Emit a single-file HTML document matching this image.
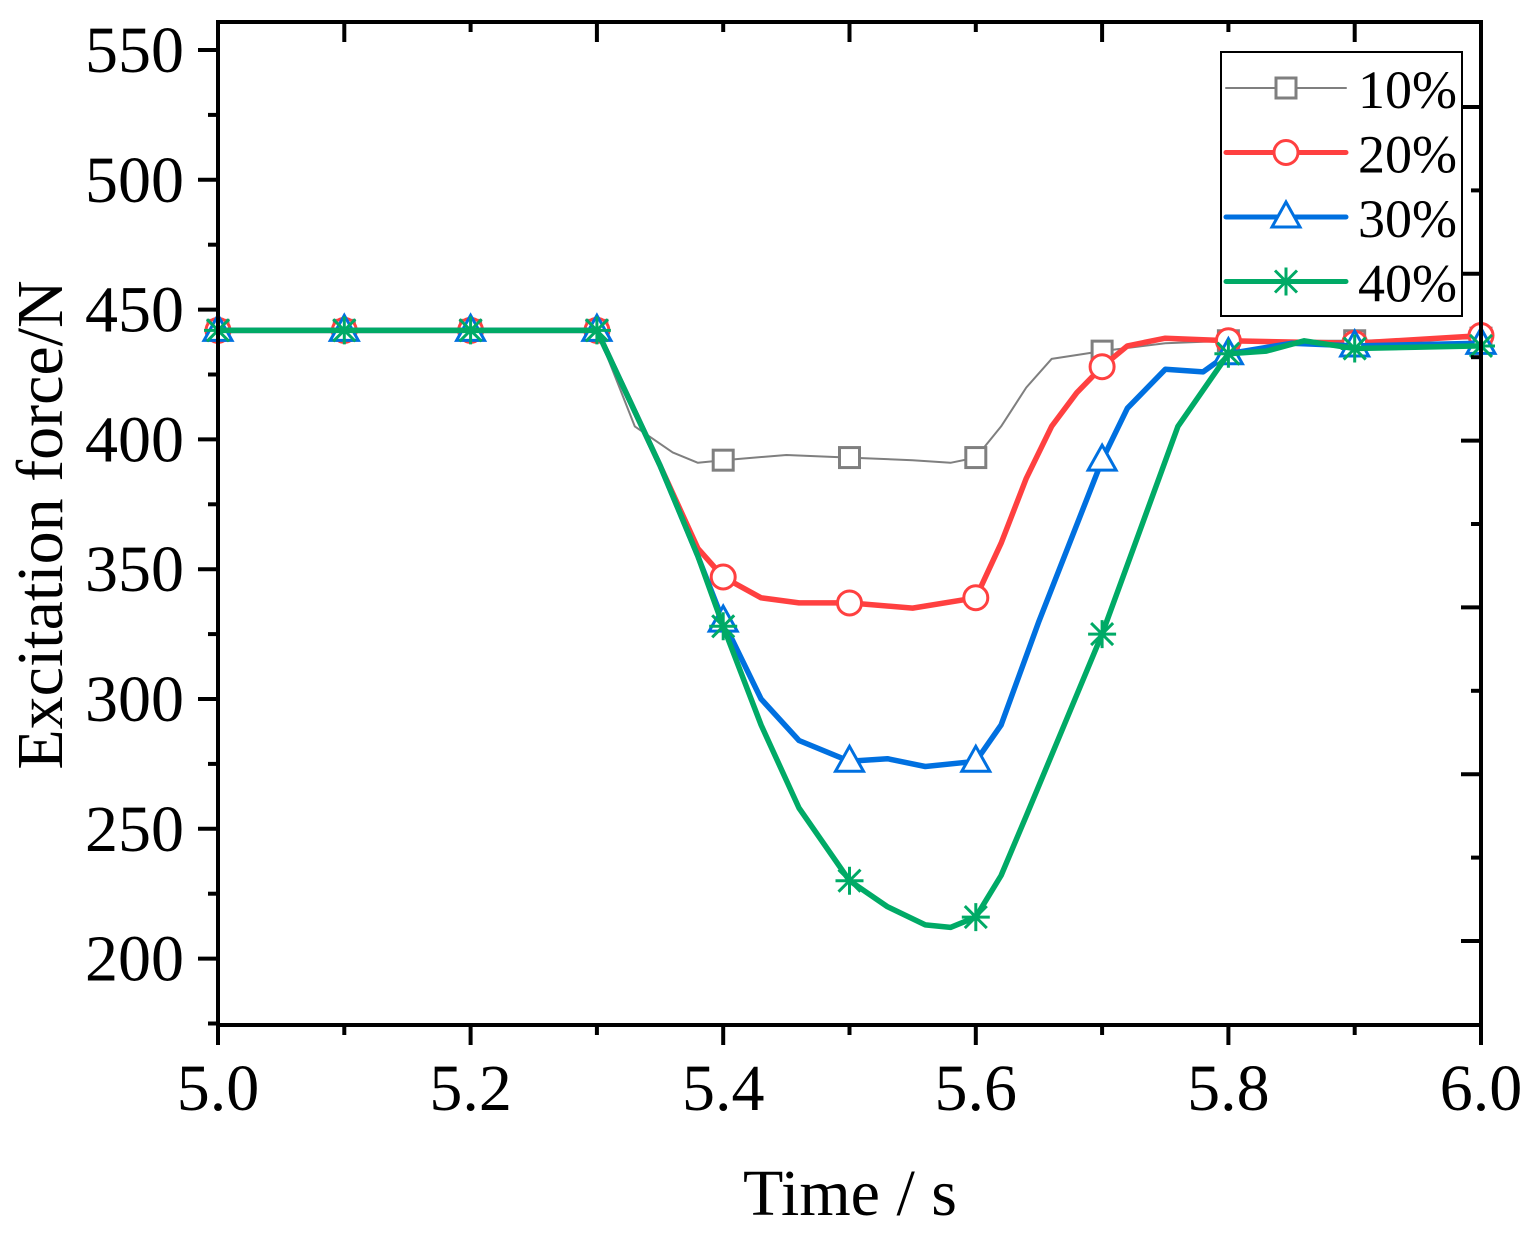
<!DOCTYPE html>
<html><head><meta charset="utf-8"><style>
html,body{margin:0;padding:0;background:#fff}
svg{display:block;font-family:"Liberation Serif",serif}
</style></head><body>
<svg id="chart" width="1532" height="1237" viewBox="0 0 1532 1237">
<g id="marks"></g>
<g id="axes"></g>
</svg>
<script>
const xTicks=[5.0,5.2,5.4,5.6,5.8,6.0];
const xTickLabels=["5.0","5.2","5.4","5.6","5.8","6.0"];
const yTicks=[200,250,300,350,400,450,500,550];
const yTickLabels=["200","250","300","350","400","450","500","550"];
const seriesNames=["10%","20%","30%","40%"];
const t10=[5.0,5.3,5.33,5.36,5.38,5.4,5.45,5.5,5.55,5.58,5.6,5.62,5.64,5.66,5.7,5.75,5.8,5.9,6.0];
const v10=[442,442,405,395,391,392,394,393,392,391,393,405,420,431,434,437,438,438,439];
const t20=[5.0,5.3,5.35,5.38,5.4,5.43,5.46,5.5,5.55,5.6,5.62,5.64,5.66,5.68,5.7,5.72,5.75,5.8,5.9,6.0];
const v20=[442,442,390,358,347,339,337,337,335,339,360,385,405,418,428,436,439,438,437,440];
const t30=[5.0,5.3,5.35,5.38,5.4,5.43,5.46,5.5,5.53,5.56,5.6,5.62,5.65,5.7,5.72,5.75,5.78,5.8,5.85,5.9,6.0];
const v30=[442,442,390,355,330,300,284,276,277,274,276,290,330,392,412,427,426,433,437,436,437];
const t40=[5.0,5.3,5.35,5.38,5.4,5.43,5.46,5.5,5.53,5.56,5.58,5.6,5.62,5.64,5.67,5.7,5.73,5.76,5.8,5.83,5.86,5.9,6.0];
const v40=[442,442,390,355,328,290,258,230,220,213,212,216,232,255,290,325,365,405,433,434,438,435,436];
const colors=["#7f7f7f","#ff4040","#0070e0","#00aa66"];
const widths=[2,5.5,5.5,5.5];
const X0=218,X1=1481,Y0=22,Y1=1025;
function xs(t){return X0+(t-5)*(X1-X0);}
function ys(v){return 50+(550-v)*2.596;}
const NS="http://www.w3.org/2000/svg";
function mk(tag,attrs,parent){const e=document.createElementNS(NS,tag);for(const k in attrs)e.setAttribute(k,attrs[k]);parent.appendChild(e);return e;}
const marks=document.getElementById('marks'),axes=document.getElementById('axes');
const T=[t10,t20,t30,t40],V=[v10,v20,v30,v40];
function interp(ts,vs,t){for(let i=0;i<ts.length-1;i++){if(t>=ts[i]-1e-9&&t<=ts[i+1]+1e-9){const f=(t-ts[i])/(ts[i+1]-ts[i]);return vs[i]+f*(vs[i+1]-vs[i]);}}return vs[vs.length-1];}
function marker(k,cx,cy,parent){
 const c=colors[k];let m;
 if(k===0){m=mk('rect',{x:cx-10,y:cy-10,width:20,height:20,fill:'#fff',stroke:c,'stroke-width':3},parent);}
 else if(k===1){m=mk('circle',{cx:cx,cy:cy,r:12,fill:'#fff',stroke:c,'stroke-width':3},parent);}
 else if(k===2){m=mk('path',{d:`M${cx},${cy-15}L${cx+14},${cy+10}L${cx-14},${cy+10}Z`,fill:'#fff',stroke:c,'stroke-width':3},parent);}
 else {m=mk('path',{d:`M${cx},${cy-14}V${cy+14}M${cx-14},${cy}H${cx+14}M${cx-11},${cy-11}L${cx+11},${cy+11}M${cx-11},${cy+11}L${cx+11},${cy-11}`,fill:'none',stroke:c,'stroke-width':3},parent);}
 return m;
}
for(let k=0;k<4;k++){
 const g=mk('g',{},marks);
 
 
 const d=T[k].map((t,i)=>(i?'L':'M')+xs(t).toFixed(1)+','+ys(V[k][i]).toFixed(1)).join('');
 const p=mk('path',{d:d,fill:'none',stroke:colors[k],'stroke-width':widths[k],'stroke-linejoin':'round'},g);
 
 
 for(let i=0;i<=10;i++){const t=5+i*0.1;const m=marker(k,xs(t),ys(interp(T[k],V[k],t)),g);
  
  }
}
const fr=mk('rect',{x:X0,y:Y0,width:X1-X0,height:Y1-Y0,fill:'none',stroke:'#000','stroke-width':4},axes);


for(let v=175;v<=560;v+=25){const y=ys(v);if(y<Y0||y>Y1)continue;const major=v%50===0;
 const tk=mk('line',{x1:major?198:208,x2:X0,y1:y,y2:y,stroke:'#000','stroke-width':4},axes);
 
 }
yTicks.forEach((v,i)=>{const tx=mk('text',{x:184,y:ys(v)+22,'text-anchor':'end','font-size':66},axes);tx.textContent=yTickLabels[i];
 
 });
for(let i=0;i<11;i++){const y=107+i*83.4;if(y>Y1)break;const major=i%2===0;
 const tk=mk('line',{x1:major?X1-20:X1-10,x2:X1,y1:y,y2:y,stroke:'#000','stroke-width':4},axes);
 
 }
for(let i=0;i<=10;i++){const x=xs(5+i*0.1);const major=i%2===0;
 const tk=mk('line',{x1:x,x2:x,y1:Y1,y2:Y1+(major?20:10),stroke:'#000','stroke-width':4},axes);
 
 
 const tt=mk('line',{x1:x,x2:x,y1:Y0,y2:Y0+(major?10:20),stroke:'#000','stroke-width':4},axes);
 
 }
xTicks.forEach((t,i)=>{const tx=mk('text',{x:xs(t),y:1110,'text-anchor':'middle','font-size':66},axes);tx.textContent=xTickLabels[i];
 
 });
const xt=mk('text',{x:850,y:1215,'text-anchor':'middle','font-size':66},axes);xt.textContent='Time / s';


const yt=mk('text',{x:0,y:0,'text-anchor':'middle','font-size':66,transform:'translate(62,525) rotate(-90)'},axes);yt.textContent='Excitation force/N';


const lg=mk('g',{},axes);


mk('rect',{x:1221,y:52,width:241,height:264,fill:'#fff',stroke:'#000','stroke-width':2},lg);
seriesNames.forEach((n,k)=>{const y=88+k*64.5;
 const e=mk('g',{},lg);
 
 
 mk('line',{x1:1226,x2:1346,y1:y,y2:y,stroke:colors[k],'stroke-width':k?5:2,'stroke-linecap':'round'},e);
 marker(k,1286,y,e);
 const tx=mk('text',{x:1358,y:y+20,'font-size':54},e);tx.textContent=n;});
</script>
</body></html>
